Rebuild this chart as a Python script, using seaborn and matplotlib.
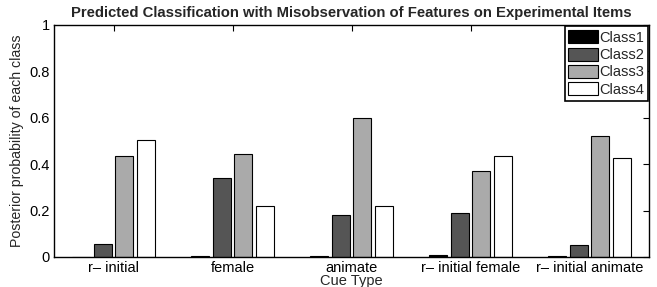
import matplotlib
matplotlib.use("Agg")
import matplotlib.pyplot as plt
import seaborn as sns
import pandas as pd

cue_types = ["r\u2013 initial", "female", "animate", "r\u2013 initial female", "r\u2013 initial animate"]
classes = ["Class1", "Class2", "Class3", "Class4"]
class1 = [0.002, 0.003, 0.003, 0.009, 0.003]
class2 = [0.057, 0.339, 0.181, 0.190, 0.052]
class3 = [0.437, 0.443, 0.600, 0.371, 0.523]
class4 = [0.506, 0.218, 0.218, 0.437, 0.425]
colors = ["#000000", "#555555", "#aaaaaa", "#ffffff"]

rows = []
for cls, vals in zip(classes, [class1, class2, class3, class4]):
    for cue, v in zip(cue_types, vals):
        rows.append({"Cue Type": cue, "Class": cls, "value": v})
df = pd.DataFrame(rows)

sns.set_style("white")
plt.rcParams["font.family"] = ["Liberation Sans", "DejaVu Sans"]

fig = plt.figure(figsize=(6.57, 2.87), dpi=100)
ax = fig.add_axes([54/657, 1 - 257/287, 595/657, 232/287])

sns.barplot(data=df, x="Cue Type", y="value", hue="Class", order=cue_types,
            hue_order=classes, palette=colors, width=0.73, gap=0.17,
            edgecolor="black", linewidth=0.8, saturation=1, ax=ax)

ax.set_xlim(-0.5, 4.5)
ax.set_ylim(0, 1)
ax.set_yticks([0, 0.2, 0.4, 0.6, 0.8, 1])
ax.set_yticklabels(["0", "0.2", "0.4", "0.6", "0.8", "1"])
ax.tick_params(direction="in", top=True, right=True, length=4, width=0.8,
               labelsize=10.5, pad=3, colors="black")
for s in ax.spines.values():
    s.set_visible(True)
    s.set_color("black")
    s.set_linewidth(1.0)
ax.set_xlabel("Cue Type", fontsize=10.5, labelpad=-1)
ax.set_ylabel("Posterior probability of each class", fontsize=10.2, labelpad=4)
ax.set_title("Predicted Classification with Misobservation of Features on Experimental Items",
             fontsize=10.7, fontweight="bold", pad=6)

leg = ax.legend(loc="upper right", fontsize=10.5, frameon=True, fancybox=False,
                edgecolor="black", borderpad=0.25, labelspacing=0.2,
                handlelength=2.0, handleheight=1.0, handletextpad=0.1,
                borderaxespad=0.1)
leg.get_frame().set_linewidth(1.2)
leg.get_frame().set_alpha(1)

fig.savefig("out.png", dpi=100)
